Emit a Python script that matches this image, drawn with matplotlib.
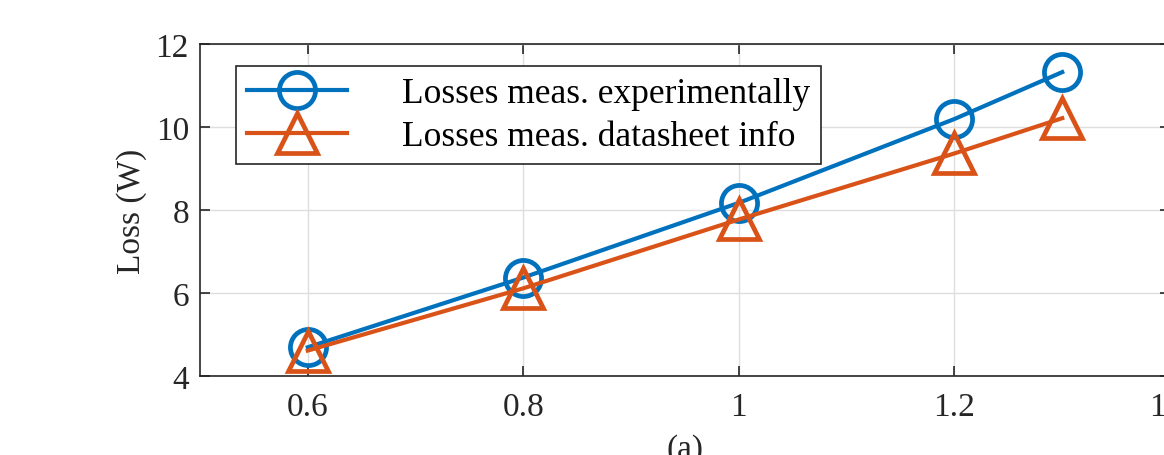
import matplotlib
matplotlib.use("Agg")
import matplotlib.pyplot as plt

plt.rcParams['font.family'] = ['Liberation Serif', 'DejaVu Serif']

x_vals = [0.6, 0.8, 1.0, 1.2, 1.3]
loss_exp = [4.70, 6.38, 8.18, 10.20, 11.33]
loss_ds = [4.62, 6.12, 7.78, 9.37, 10.22]
labels = ['Losses meas. experimentally', 'Losses meas. datasheet info']
xticks = [0.6, 0.8, 1.0, 1.2, 1.4]
xtick_labels = ['0.6', '0.8', '1', '1.2', '1.4']
yticks = [4, 6, 8, 10, 12]

W, H = 1164, 456
fig = plt.figure(figsize=(W / 100, H / 100), dpi=100)
left, right, top, bottom = 200, 1170, 45.3, 377.3
ax = fig.add_axes([left / W, 1 - bottom / H, (right - left) / W, (bottom - top) / H])

blue = '#0072BD'
orange = '#D95319'
ax.plot(x_vals, loss_exp, '-o', color=blue, lw=3.0, ms=26, mew=3.4,
        mfc='none', label=labels[0], zorder=3)
ax.plot(x_vals, loss_ds, '-^', color=orange, lw=3.0, ms=29, mew=3.4,
        mfc='none', label=labels[1], zorder=4)

ax.set_xlim(0.5, 1.4)
ax.set_ylim(4, 12)
ax.set_xticks(xticks)
ax.set_xticklabels(xtick_labels)
ax.set_yticks(yticks)
ax.grid(True, color='#dedede', lw=1.0)
ax.set_axisbelow(True)
ax.tick_params(direction='in', top=True, right=True, length=7, width=1.2,
               labelsize=24, colors='#262626')
ax.tick_params(axis='x', pad=11)
ax.tick_params(axis='y', pad=8)
for s in ax.spines.values():
    s.set_color('#262626')
    s.set_linewidth(1.2)

ax.set_ylabel('Loss (W)', fontsize=24, color='#262626', labelpad=6)
ax.set_xlabel('(a)', fontsize=24, color='#262626', labelpad=8)

leg = ax.legend(loc='upper left', bbox_to_anchor=(36 / 970, (377.3 - 67) / 332),
                borderaxespad=0, fontsize=25.5, fancybox=False, framealpha=1,
                edgecolor='#262626', handlelength=2.83, handletextpad=1.55,
                borderpad=0.31, labelspacing=0.29)
leg.get_frame().set_linewidth(1.2)

fig.savefig('out.png', dpi=100)
